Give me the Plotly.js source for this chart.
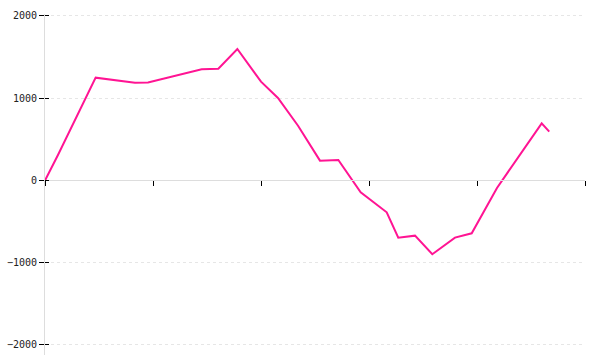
<!DOCTYPE html>
<html>
<head>
<meta charset="utf-8">
<script src="https://cdn.plot.ly/plotly-3.0.1.min.js"></script>
<style>
  html, body { margin: 0; padding: 0; background: #fff; }
  #chart { width: 600px; height: 360px; }
</style>
</head>
<body>
<div id="chart"></div>
<script>
// Data
var xValues = [0, 1.2, 4.69, 6.67, 8.33, 9.54, 14.51, 16.05, 17.81, 20.0, 21.57, 23.43, 25.46, 27.16, 29.23, 31.64, 32.71, 34.26, 35.86, 37.96, 39.51, 41.85, 45.99, 46.69];
var yValues = [0, 310, 1250, 1216, 1189, 1191, 1352, 1359, 1599, 1201, 1003, 666, 241, 250, -143, -387, -695, -671, -897, -695, -642, -91, 695, 593];
var yTickValues = [-2000, -1000, 0, 1000, 2000];
var yTickLabels = ['\u22122000', '\u22121000', '0', '1000', '2000'];
var xTickValues = [0, 10, 20, 30, 40, 50];

var yMin = -2122, yMax = 2024;

var trace = {
  x: xValues,
  y: yValues,
  type: 'scatter',
  mode: 'lines',
  line: { color: '#ff1493', width: 2 },
  hoverinfo: 'none'
};

var layout = {
  width: 600,
  height: 360,
  margin: { l: 45, r: 15, t: 14, b: 5 },
  paper_bgcolor: '#ffffff',
  plot_bgcolor: '#ffffff',
  showlegend: false,
  font: { family: 'DejaVu Sans Mono', size: 10, color: '#222' },
  xaxis: {
    range: [0, 50],
    tickvals: xTickValues,
    showticklabels: false,
    ticks: 'outside',
    ticklen: 5,
    tickcolor: '#000',
    tickwidth: 1,
    showline: true,
    linecolor: '#dddddd',
    linewidth: 1,
    showgrid: false,
    zeroline: false,
    anchor: 'free',
    position: (0 - yMin) / (yMax - yMin),
    fixedrange: true
  },
  yaxis: {
    range: [yMin, yMax],
    tickvals: yTickValues,
    ticktext: yTickLabels,
    ticks: 'outside',
    ticklen: 5,
    tickcolor: '#000',
    tickwidth: 1,
    showline: true,
    linecolor: '#dddddd',
    linewidth: 1,
    showgrid: true,
    gridcolor: '#e6e6e6',
    griddash: 'dot',
    gridwidth: 1,
    zeroline: false,
    fixedrange: true
  },
  yaxis2: {
    overlaying: 'y',
    matches: 'y',
    range: [yMin, yMax],
    tickvals: yTickValues,
    ticks: 'inside',
    ticklen: 4,
    tickcolor: '#000',
    showticklabels: false,
    showgrid: false,
    zeroline: false,
    showline: false,
    anchor: 'x',
    side: 'left',
    fixedrange: true
  }
};

var dummy = { x: [0], y: [0], yaxis: 'y2', type: 'scatter', mode: 'markers', marker: { opacity: 0 }, hoverinfo: 'none' };

Plotly.newPlot('chart', [trace, dummy], layout, { displayModeBar: false, staticPlot: true });
</script>
</body>
</html>
